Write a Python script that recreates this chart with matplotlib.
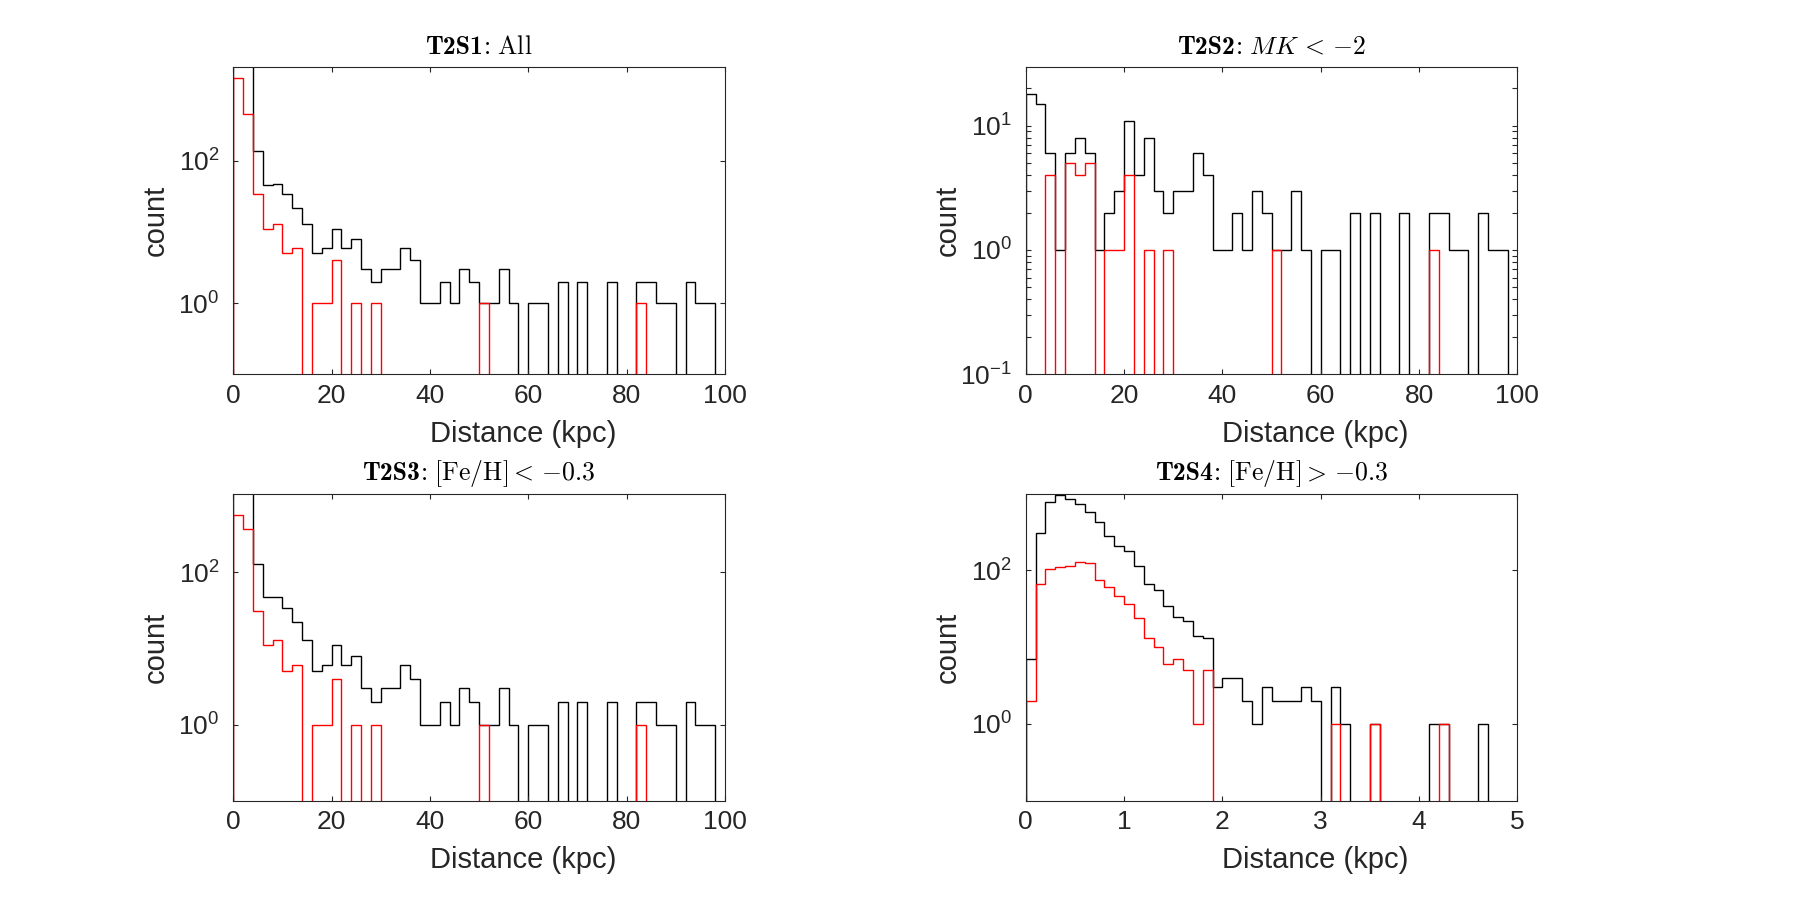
import numpy as np
import matplotlib
matplotlib.use("Agg")
import matplotlib.pyplot as plt
from matplotlib.ticker import FixedLocator, FuncFormatter, NullFormatter, LogLocator

plt.rcParams['font.family'] = ['Liberation Sans', 'DejaVu Sans']
plt.rcParams['mathtext.fontset'] = 'cm'

# ---------------- data ----------------
edges_far = np.arange(0, 101, 2)          # kpc, 2 kpc bins
edges_near = np.round(np.arange(0, 5.01, 0.1), 2)  # kpc, 0.1 kpc bins

title_bold = ['T2S1', 'T2S2', 'T2S3', 'T2S4']
title_rest = [r':$\ \mathrm{All}$',
              r':$\ MK\,<\,{-2}$',
              r':$\ $[Fe/H]$<\,{-0.3}$',
              r':$\ $[Fe/H]$>\,{-0.3}$']

s1_black = [7500, 2300, 135, 46, 47, 34, 22, 13, 5, 6,
            11, 6, 8, 3, 2, 3, 3, 6, 4, 1,
            1, 2, 1, 3, 2, 1, 1, 3, 1, 0,
            1, 1, 0, 2, 0, 2, 0, 0, 2, 0,
            0, 2, 2, 1, 1, 0, 2, 1, 1, 0]
s1_red = [1430, 450, 34, 11, 13, 5, 6, 0, 1, 1,
          4, 0, 1, 0, 1, 0, 0, 0, 0, 0,
          0, 0, 0, 0, 0, 1, 0, 0, 0, 0,
          0, 0, 0, 0, 0, 0, 0, 0, 0, 0,
          0, 1, 0, 0, 0, 0, 0, 0, 0, 0]

s2_black = [18, 15, 6, 1, 6, 8, 6, 1, 2, 3,
            11, 4, 8, 3, 2, 3, 3, 6, 4, 1,
            1, 2, 1, 3, 2, 1, 1, 3, 1, 0,
            1, 1, 0, 2, 0, 2, 0, 0, 2, 0,
            0, 2, 2, 1, 1, 0, 2, 1, 1, 0]
s2_red = [0, 0, 4, 0, 5, 4, 5, 0, 1, 1,
          4, 0, 1, 0, 1, 0, 0, 0, 0, 0,
          0, 0, 0, 0, 0, 1, 0, 0, 0, 0,
          0, 0, 0, 0, 0, 0, 0, 0, 0, 0,
          0, 1, 0, 0, 0, 0, 0, 0, 0, 0]

s3_black = [1900, 1400, 127, 47, 47, 34, 22, 13, 5, 6,
            11, 6, 8, 3, 2, 3, 3, 6, 4, 1,
            1, 2, 1, 3, 2, 1, 1, 3, 1, 0,
            1, 1, 0, 2, 0, 2, 0, 0, 2, 0,
            0, 2, 2, 1, 1, 0, 2, 1, 1, 0]
s3_red = [571, 371, 31, 11, 13, 5, 6, 0, 1, 1,
          4, 0, 1, 0, 1, 0, 0, 0, 0, 0,
          0, 0, 0, 0, 0, 1, 0, 0, 0, 0,
          0, 0, 0, 0, 0, 0, 0, 0, 0, 0,
          0, 1, 0, 0, 0, 0, 0, 0, 0, 0]

s4_black = [7, 312, 771, 970, 844, 741, 583, 424, 279, 207,
            178, 114, 67, 56, 34, 25, 22, 14, 13, 3,
            4, 4, 2, 1, 3, 2, 2, 2, 3, 2,
            0, 3, 1, 0, 0, 1, 0, 0, 0, 0,
            0, 1, 1, 0, 0, 0, 1, 0, 0, 0]
s4_red = [2, 66, 103, 110, 114, 130, 126, 76, 61, 46,
          37, 24, 13, 10, 6, 7, 5, 1, 5, 0,
          0, 0, 0, 0, 0, 0, 0, 0, 0, 0,
          0, 1, 0, 0, 0, 1, 0, 0, 0, 0,
          0, 0, 1, 0, 0, 0, 0, 0, 0, 0]

xticks_far = [0, 20, 40, 60, 80, 100]
xticks_near = [0, 1, 2, 3, 4, 5]

# ---------------- layout ----------------
W, H = 1800, 900
fig = plt.figure(figsize=(18, 9), dpi=100)
ax_w = 491.7 / W
ax_h = 307.0 / H
lefts = [233.3 / W, 1025.7 / W]
bottoms = [1 - 374.3 / H, 1 - 800.7 / H]

panels = [
    dict(edges=edges_far, black=s1_black, red=s1_red, xlim=(0, 100), xt=xticks_far,
         ylim=(0.1, 2050), yt=[1e0, 1e2], minor=False, pos=(0, 0)),
    dict(edges=edges_far, black=s2_black, red=s2_red, xlim=(0, 100), xt=xticks_far,
         ylim=(0.1, 29.5), yt=[1e-1, 1e0, 1e1], minor=True, pos=(1, 0)),
    dict(edges=edges_far, black=s3_black, red=s3_red, xlim=(0, 100), xt=xticks_far,
         ylim=(0.1, 1080), yt=[1e0, 1e2], minor=False, pos=(0, 1)),
    dict(edges=edges_near, black=s4_black, red=s4_red, xlim=(0, 5), xt=xticks_near,
         ylim=(0.1, 1000), yt=[1e0, 1e2], minor=False, pos=(1, 1)),
]

axcol = '#262626'
fmt = FuncFormatter(lambda v, p: r'$\mathregular{10^{%d}}$' % int(round(np.log10(v))))
renderer = fig.canvas.get_renderer()
title_fs = 18.5
title_y = 1 + 13.5 / 307.0

for i, pnl in enumerate(panels):
    c, r = pnl['pos']
    ax = fig.add_axes([lefts[c], bottoms[r], ax_w, ax_h])
    ax.set_yscale('log')
    ax.stairs(pnl['black'], pnl['edges'], baseline=0, color='black', lw=1.0)
    ax.stairs(pnl['red'], pnl['edges'], baseline=0, color='#ff0000', lw=1.0)
    ax.set_xlim(*pnl['xlim'])
    ax.set_ylim(*pnl['ylim'])
    ax.xaxis.set_major_locator(FixedLocator(pnl['xt']))
    ax.yaxis.set_major_locator(FixedLocator(pnl['yt']))
    ax.yaxis.set_major_formatter(fmt)
    if pnl['minor']:
        ax.yaxis.set_minor_locator(LogLocator(base=10, subs=np.arange(2, 10)))
    else:
        ax.yaxis.set_minor_locator(FixedLocator([]))
    ax.yaxis.set_minor_formatter(NullFormatter())
    ax.tick_params(which='both', direction='in', top=True, right=True,
                   length=3.8, width=0.8, color=axcol, labelcolor=axcol,
                   labelsize=19)
    ax.tick_params(axis='x', pad=7)
    ax.tick_params(axis='y', pad=10)
    for s in ax.spines.values():
        s.set_linewidth(0.8)
        s.set_color(axcol)
    ax.set_xlabel('Distance (kpc)', fontsize=21, color=axcol)
    ax.xaxis.set_label_coords(0.589, -0.148)
    ax.set_ylabel('count', fontsize=21, color=axcol)
    ax.yaxis.set_label_coords(-0.13, 0.5)

    # title: bold label (cmb10) + regular remainder, baseline-aligned and centred
    t1 = ax.text(0, title_y, title_bold[i], fontfamily='cmb10', fontsize=title_fs,
                 transform=ax.transAxes, ha='left', va='baseline', color='black')
    t2 = ax.text(0, title_y, title_rest[i], fontfamily='cmr10', fontsize=title_fs,
                 transform=ax.transAxes, ha='left', va='baseline', color='black')
    w1 = t1.get_window_extent(renderer).width
    w2 = t2.get_window_extent(renderer).width
    axpx = ax.get_window_extent(renderer).width
    x0 = 0.5 - 0.5 * (w1 + w2) / axpx
    t1.set_x(x0)
    t2.set_x(x0 + w1 / axpx)

fig.savefig('out.png', dpi=100, facecolor='white')
